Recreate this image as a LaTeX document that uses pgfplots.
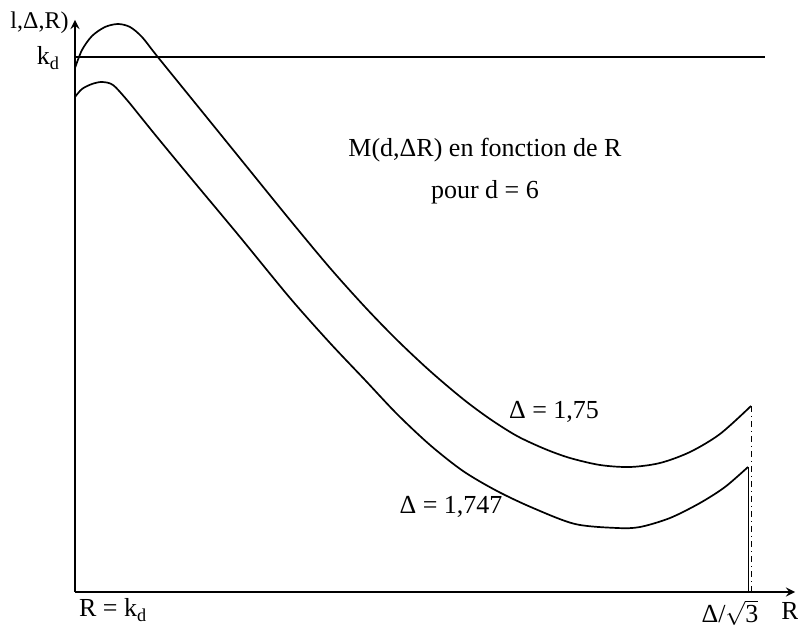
\documentclass[border=0pt]{standalone}
\usepackage{fontspec}
\setmainfont{Liberation Serif}
\usepackage{pgfplots}
\usepackage{pgfplotstable}
\pgfplotsset{compat=1.18}

\pgfplotstableread{
x y
75 559
82 577
92 591
105 600
118 603
130 600
142 590
157 571
200 518
247 460
290 407
330 359
365 320
397 287
430 256
463 228
490 208
517 191
545 178
570 169
600 162
630 160
660 164
690 175
720 193
751 221
}\curveA
\pgfplotstableread{
x y
75 530
82 538
92 543
102 545
113 542
127 527
140 511
157 490
190 450
240 390
290 329
330 284
365 247
397 213
430 182
463 156
497 136
533 119
575 103
617 99
640 100
670 109
700 124
725 140
748 160
}\curveB

\begin{document}
\fontsize{13}{16}\selectfont
\begin{tikzpicture}
\begin{axis}[
    x=0.5pt, y=0.5pt,
    xmin=75, xmax=795,
    ymin=35, ymax=607,
    axis lines=left,
    axis line style={line width=1pt},
    xtick=\empty, ytick=\empty,
    clip=false,
]
\coordinate (bl) at (axis cs:0,0);
\coordinate (tr) at (axis cs:798,627);

\addplot[black, line width=0.9pt] coordinates {(75,570) (765,570)};
\addplot[black, line width=0.85pt, smooth] table {\curveA};
\addplot[black, line width=0.85pt, smooth] table {\curveB};
\addplot[black, line width=0.5pt, dash dot] coordinates {(751,221) (751,35)};
\addplot[black, line width=0.5pt] coordinates {(748,160) (748,35)};

\node[anchor=east, inner sep=1pt, font=\fontsize{12}{14}\selectfont] at (axis cs:71,604) {l,Δ,R)};
\node[anchor=east] at (axis cs:69,569) {k\textsubscript{d}};
\node at (axis cs:485,477) {M(d,ΔR) en fonction de R};
\node at (axis cs:485,435) {pour d = 6};
\node at (axis cs:554,215) {Δ = 1,75};
\node at (axis cs:451,120) {Δ = 1,747};
\node[anchor=west] at (axis cs:70,17) {R = k\textsubscript{d}};
\node at (axis cs:730,14) {Δ/\(\sqrt{\mbox{3}}\)};
\node at (axis cs:790,16) {R};
\end{axis}
\pgfresetboundingbox
\path[use as bounding box] (bl) rectangle (tr);
\end{tikzpicture}
\end{document}
